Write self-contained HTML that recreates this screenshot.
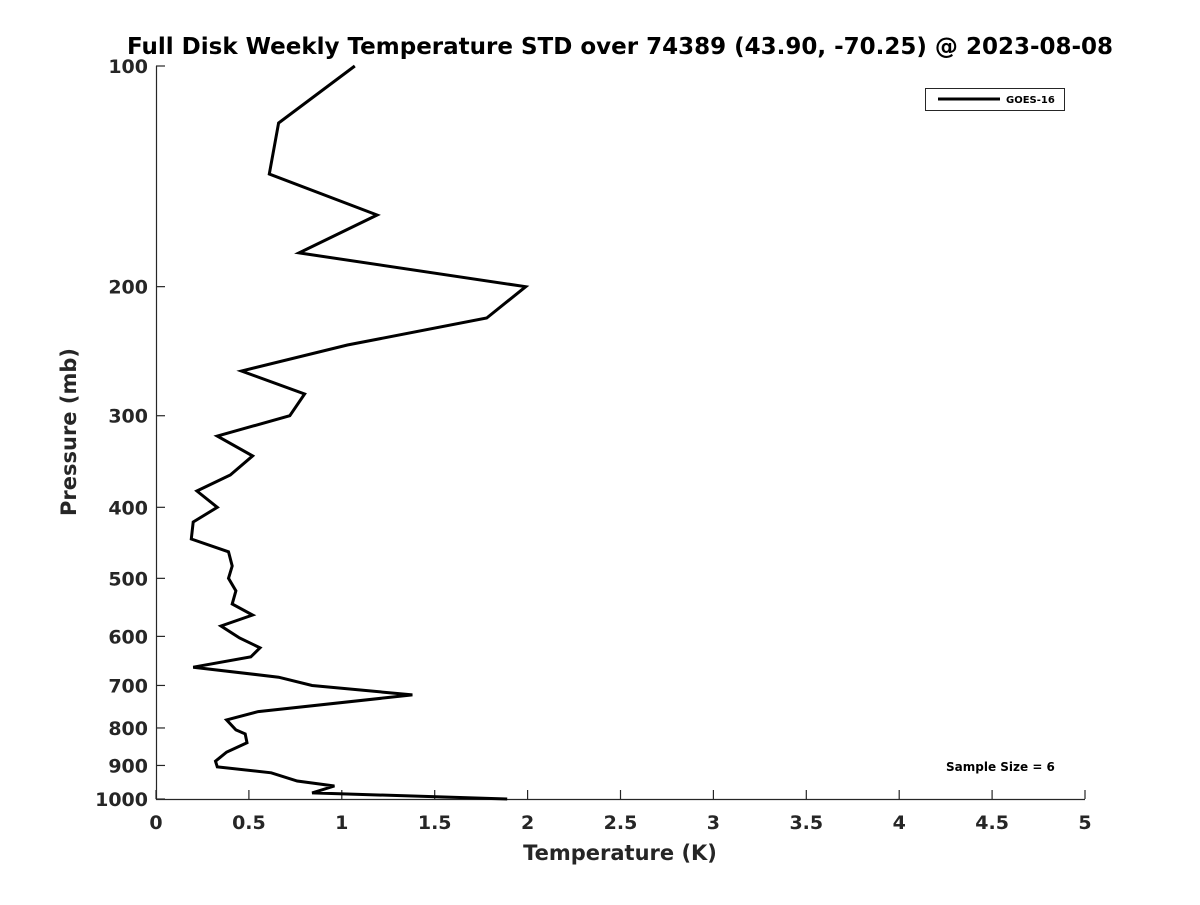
<!DOCTYPE html>
<html><head><meta charset="utf-8"><style>
body{margin:0;background:#fff}
svg text{font-family:"DejaVu Sans","Liberation Sans",sans-serif;font-weight:bold}
</style></head><body>
<svg id="chart" width="1200" height="900" viewBox="0 0 1200 900" xmlns="http://www.w3.org/2000/svg">
<rect width="1200" height="900" fill="#fff"/>
<text x="620" y="54" text-anchor="middle" font-size="23" fill="#000">Full Disk Weekly Temperature STD over 74389 (43.90, -70.25) @ 2023-08-08</text>
<g id="axes"></g>
<path id="line" fill="none" stroke="#000" stroke-width="3" stroke-linejoin="miter"/>
<text x="620" y="860" text-anchor="middle" font-size="21" fill="#262626">Temperature (K)</text>
<text transform="translate(76,432) rotate(-90)" text-anchor="middle" font-size="21" fill="#262626">Pressure (mb)</text>
<g>
<rect x="925.5" y="88.5" width="139" height="22" fill="#fff" stroke="#262626" stroke-width="1"/>
<line x1="938" y1="99" x2="1000" y2="99" stroke="#000" stroke-width="3"/>
<text x="1006" y="103" font-size="10" fill="#000">GOES-16</text>
</g>
<text x="946" y="771" font-size="12" fill="#000">Sample Size = 6</text>
</svg>
<script>
const temps=[1.07,0.66,0.61,1.19,0.77,1.99,1.78,1.03,0.46,0.80,0.72,0.33,0.52,0.40,0.22,0.33,0.20,0.19,0.39,0.41,0.39,0.43,0.41,0.52,0.35,0.45,0.56,0.51,0.20,0.66,0.84,1.38,0.55,0.38,0.43,0.48,0.49,0.38,0.32,0.33,0.62,0.76,0.96,0.84,1.89];
const pressures=[100,119.6,140.4,159.7,179.9,200,220.7,240.2,260.7,280.2,300,319.8,340.4,361.4,380,400,418.9,441.9,460,481,500,520,542,561,580.7,603,622,640,661,682,700,721,760,780,805,815,838,863,888,904,921,945,960,981,1000];
const xTicks=[0,0.5,1,1.5,2,2.5,3,3.5,4,4.5,5];
const yTicks=[100,200,300,400,500,600,700,800,900,1000];
const X0=156,X1=1085,Y0=66,Y1=799;
const xs=v=>X0+(v-0)/(5-0)*(X1-X0);
const ys=p=>Y0+(Math.log10(p)-2)/(3-2)*(Y1-Y0);
const NS="http://www.w3.org/2000/svg";
const ax=document.getElementById('axes');
function mk(t,a){const e=document.createElementNS(NS,t);for(const k in a)e.setAttribute(k,a[k]);return e;}
let e=mk('path',{d:`M${X0+.5},${Y0}V${Y1+.5}H${X1}`,fill:'none',stroke:'#262626','stroke-width':1.2});


ax.appendChild(e);
xTicks.forEach(v=>{
 const x=xs(v);
 const t=mk('line',{x1:x,y1:Y1,x2:x,y2:Y1-9,stroke:'#262626','stroke-width':1.2});
 
 
 ax.appendChild(t);
 const l=mk('text',{x:x,y:Y1+30,'text-anchor':'middle','font-size':19,fill:'#262626'});
 
 
 l.textContent=String(v);ax.appendChild(l);
});
yTicks.forEach(p=>{
 const y=ys(p);
 const t=mk('line',{x1:X0,y1:y,x2:X0+9,y2:y,stroke:'#262626','stroke-width':1.2});
 
 
 ax.appendChild(t);
 const l=mk('text',{x:X0-8,y:y+7,'text-anchor':'end','font-size':19,fill:'#262626'});
 
 
 l.textContent=String(p);ax.appendChild(l);
});
document.getElementById('line').setAttribute('d',temps.map((v,i)=>(i?'L':'M')+xs(v).toFixed(1)+','+ys(pressures[i]).toFixed(1)).join(''));
</script>
</body></html>
